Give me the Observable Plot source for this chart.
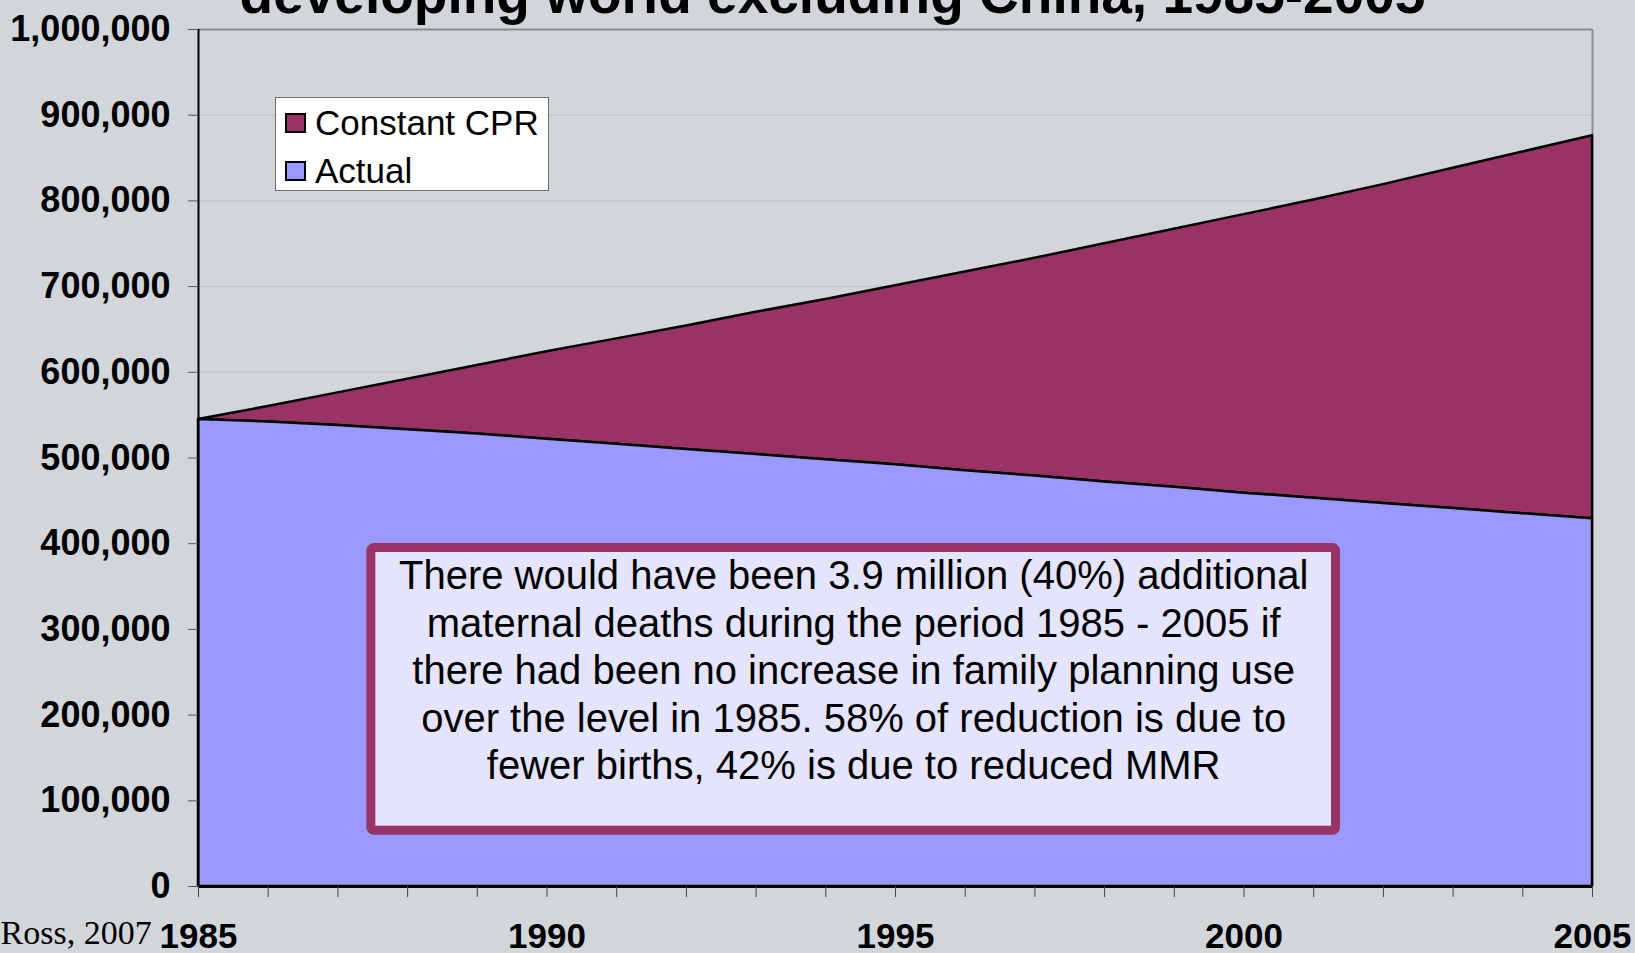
<!DOCTYPE html>
<html>
<head>
<meta charset="utf-8">
<script src="https://cdn.jsdelivr.net/npm/d3@7"></script>
<script src="https://cdn.jsdelivr.net/npm/@observablehq/plot@0.6"></script>
<style>
  html, body { margin: 0; padding: 0; background: #d2d6da; }
  #chart { position: relative; width: 1635px; height: 953px; overflow: hidden; }
  #chart svg { display: block; }
  .key-box {
    position: absolute; left: 275px; top: 97px; width: 272px; height: 92px;
    background: #fff; border: 1.5px solid #6e6e6e; box-sizing: content-box;
  }
  .key-swatches { margin: 0 !important; padding: 1px 0 0 10px; }
  .key-swatch { height: 48px; padding-bottom: 0 !important; }
  .key-swatch > svg { margin-right: 10px !important; }
  .key-swatch rect { stroke: #000; stroke-width: 2px; }
  .key-swatch-label { line-height: 48px; }
</style>
</head>
<body>
<div id="chart"></div>
<script>
// Maternal deaths per year, developing world excluding China
const years = [1985, 1986, 1987, 1988, 1989, 1990, 1991, 1992, 1993, 1994, 1995,
               1996, 1997, 1998, 1999, 2000, 2001, 2002, 2003, 2004, 2005];
const actual = [545000, 542000, 538000, 533000, 528000, 522000, 516000, 510000, 504000, 498000, 492000,
                485000, 479000, 472000, 466000, 459000, 453000, 447000, 441000, 435000, 429000];
const constantCPR = [545000, 560000, 576000, 592000, 608000, 624000, 639000, 654000, 670000, 685000, 701000,
                     717000, 733000, 750000, 767000, 784000, 801000, 819000, 838000, 857000, 876000];

const seriesNames = ["Constant CPR", "Actual"];
const seriesColors = ["#993366", "#9999ff"];

const yTicks = [0, 100000, 200000, 300000, 400000, 500000, 600000, 700000, 800000, 900000, 1000000];
const xLabelYears = [1985, 1990, 1995, 2000, 2005];

const title = "developing world excluding China, 1985-2005";
const source = "Ross, 2007";
const noteLines = [
  "There would have been 3.9 million (40%) additional",
  "maternal deaths during the period 1985 - 2005 if",
  "there had been no increase in family planning use",
  "over the level in 1985. 58% of reduction is due to",
  "fewer births, 42% is due to reduced MMR"
];
// extent of the annotation panel, in chart units
const noteBox = {x1: 1987.48, x2: 2001.32, y1: 65000, y2: 395000, tx: 1994.4, ty: 386500};

const rows = years.map((year, i) => ({year, actual: actual[i], constant: constantCPR[i]}));

const font = "'Liberation Sans', Arial, sans-serif";
const bg = "#d2d6da";

const chart = Plot.plot({
  width: 1635,
  height: 953,
  marginLeft: 198,
  marginRight: 43,
  marginTop: 29,
  marginBottom: 67,
  style: {background: bg, fontFamily: font, color: "#000", overflow: "hidden"},
  x: {domain: [1985, 2005]},
  y: {domain: [0, 1000000]},
  marks: [
    Plot.gridY(yTicks.slice(1, -1), {stroke: "#c3c7cb", strokeOpacity: 1, strokeWidth: 1.5}),
    Plot.ruleY([1000000], {stroke: "#8a8a8a", strokeWidth: 2}),
    Plot.ruleX([2005], {stroke: "#8a8a8a", strokeWidth: 2}),
    Plot.areaY(rows, {x: "year", y1: "actual", y2: "constant", fill: seriesColors[0], stroke: "#000", strokeWidth: 2.5}),
    Plot.areaY(rows, {x: "year", y1: 0, y2: "actual", fill: seriesColors[1], stroke: "#000", strokeWidth: 2.5}),
    Plot.ruleX([1985], {stroke: "#000", strokeWidth: 2}),
    Plot.ruleY([0], {stroke: "#000", strokeWidth: 3}),
    Plot.axisY(yTicks, {
      tickFormat: d3.format(","), tickSize: 10, tickPadding: 18, stroke: "#555",
      fontSize: 36, fontWeight: "bold", fill: "#000", label: null
    }),
    Plot.axisX(years, {
      tickFormat: d => xLabelYears.includes(d) ? String(d) : "", tickSize: 11, tickPadding: 26,
      stroke: "#444", fontSize: 35, fontWeight: "bold", fill: "#000", label: null
    }),
    Plot.rect([noteBox], {
      x1: "x1", x2: "x2", y1: "y1", y2: "y2",
      fill: "#e4e4fc", stroke: seriesColors[0], strokeWidth: 9, rx: 3
    }),
    Plot.text([noteLines.join("\n")], {
      x: noteBox.tx, y: noteBox.ty, lineAnchor: "top", lineHeight: 1.19,
      fontSize: 40, fill: "#000"
    }),
    Plot.text([title], {
      frameAnchor: "top-left", dx: 634, dy: -17, lineAnchor: "bottom", textAnchor: "middle",
      fontSize: 55, fontWeight: "bold", fill: "#000"
    }),
    Plot.text([source], {
      frameAnchor: "bottom-left", dx: -198, dy: 57, lineAnchor: "bottom", textAnchor: "start",
      fontSize: 34, fontFamily: "'Liberation Serif', 'Times New Roman', serif", fill: "#000"
    })
  ]
});

const root = document.getElementById("chart");
root.appendChild(chart);

// series key, placed over the upper-left of the plot area
const keyBox = document.createElement("div");
keyBox.className = "key-box";
keyBox.appendChild(Plot.legend({
  color: {domain: seriesNames, range: seriesColors},
  legend: "swatches",
  columns: 1,
  swatchWidth: 19,
  swatchHeight: 18,
  className: "key",
  style: {fontFamily: font, fontSize: "35px", color: "#000"}
}));
root.appendChild(keyBox);
</script>
</body>
</html>
